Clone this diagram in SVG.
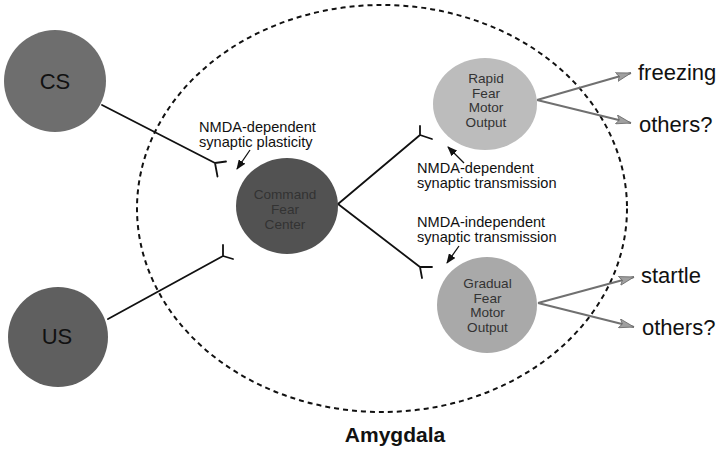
<svg xmlns="http://www.w3.org/2000/svg" width="720" height="450" viewBox="0 0 720 450">
<defs>
<marker id="blk" markerUnits="userSpaceOnUse" markerWidth="10" markerHeight="8" refX="9" refY="4" orient="auto">
<path d="M0,0 L10,4 L0,8 z" fill="#111"/>
</marker>
<marker id="gry" markerUnits="userSpaceOnUse" markerWidth="16" markerHeight="10" refX="15" refY="5" orient="auto">
<path d="M0,0.5 L15,5 L0,9.5 L3,5 z" fill="#a0a0a0" stroke="#6a6a6a" stroke-width="0.8"/>
</marker>
</defs>
<style>
text{font-family:"Liberation Sans",Arial,Helvetica,sans-serif}
.ax{stroke:#111;stroke-width:1.8;fill:none;stroke-linecap:round;stroke-linejoin:round}
.out{stroke:#707070;stroke-width:2;fill:none}
.ann{stroke:#111;stroke-width:1.3;fill:none}
.lbl{font-size:14.6px;fill:#111}
.big{font-size:22px;fill:#111}
.in{font-size:13.6px;fill:#333;text-anchor:middle}
</style>
<rect width="720" height="450" fill="#fff"/>
<ellipse id="amygdala" cx="382" cy="208.5" rx="245" ry="203.5" fill="none" stroke="#111" stroke-width="2" stroke-dasharray="5,4"/>
<text x="395" y="442" font-size="21" font-weight="bold" text-anchor="middle" fill="#111">Amygdala</text>
<g id="connectors">
<path class="ax" d="M102,105 L215,163 M226,161.5 L215,163 L217.5,176.5"/>
<path class="ax" d="M108,319 L223,256 M223,245 L223,256 L233,259"/>
<path class="ax" d="M338,204 L420,135 M420,126 L420,135 L432,139"/>
<path class="ax" d="M338,204 L420,267 M432,267 L420,267 L422,278"/>
<line class="out" x1="537" y1="100" x2="631" y2="73" marker-end="url(#gry)"/>
<line class="out" x1="537" y1="100" x2="631" y2="123" marker-end="url(#gry)"/>
<line class="out" x1="538" y1="303" x2="634" y2="277" marker-end="url(#gry)"/>
<line class="out" x1="538" y1="303" x2="634" y2="327" marker-end="url(#gry)"/>
<line class="ann" x1="250" y1="150" x2="237" y2="169" marker-end="url(#blk)"/>
<line class="ann" x1="464" y1="163" x2="448" y2="147" marker-end="url(#blk)"/>
<line class="ann" x1="459" y1="246" x2="447" y2="263" marker-end="url(#blk)"/>
</g>
<g id="cs">
<circle cx="55" cy="81" r="51" fill="#6e6e6e"/>
<text class="big" x="55" y="89" text-anchor="middle" fill="#222">CS</text>
</g>
<g id="us">
<circle cx="58" cy="337" r="50" fill="#5f5f5f"/>
<text class="big" x="57" y="344" text-anchor="middle" fill="#222">US</text>
</g>
<g id="command">
<ellipse cx="287" cy="206" rx="51" ry="48" fill="#525252"/>
<text class="in" x="285" y="199" font-size="14.4" fill="#2a2a2a">Command</text>
<text class="in" x="285" y="214" font-size="14.4" fill="#2a2a2a">Fear</text>
<text class="in" x="285" y="229" font-size="14.4" fill="#2a2a2a">Center</text>
</g>
<g id="rapid">
<ellipse cx="485" cy="104" rx="52" ry="46" fill="#bcbcbc"/>
<text class="in" x="486" y="83">Rapid</text>
<text class="in" x="486" y="97.7">Fear</text>
<text class="in" x="486" y="112.4">Motor</text>
<text class="in" x="486" y="127">Output</text>
</g>
<g id="gradual">
<ellipse cx="487" cy="305" rx="50" ry="48" fill="#a9a9a9"/>
<text class="in" x="487.5" y="288">Gradual</text>
<text class="in" x="487.5" y="302.7">Fear</text>
<text class="in" x="487.5" y="317.4">Motor</text>
<text class="in" x="487.5" y="332">Output</text>
</g>
<g id="label-plasticity">
<text class="lbl" x="199" y="132">NMDA-dependent</text>
<text class="lbl" x="199" y="146.5">synaptic plasticity</text>
</g>
<g id="label-dep">
<text class="lbl" x="417" y="173">NMDA-dependent</text>
<text class="lbl" x="417" y="187.5">synaptic transmission</text>
</g>
<g id="label-indep">
<text class="lbl" x="417" y="227">NMDA-independent</text>
<text class="lbl" x="417" y="242">synaptic transmission</text>
</g>
<g id="freezing"><text class="big" x="638" y="80">freezing</text></g>
<g id="others1"><text class="big" x="639" y="132">others?</text></g>
<g id="startle"><text class="big" x="641" y="283">startle</text></g>
<g id="others2"><text class="big" x="642" y="335">others?</text></g>
</svg>
